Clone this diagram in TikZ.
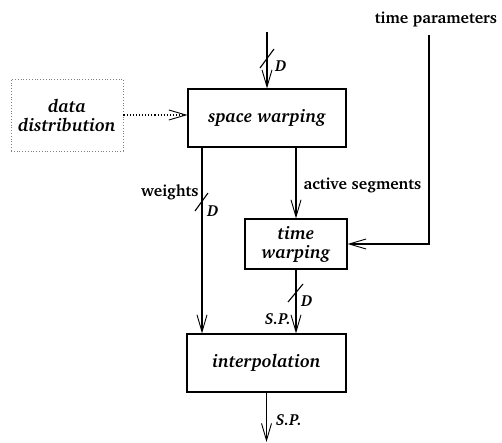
\documentclass[tikz,border=0pt]{standalone}
\usepackage[T1]{fontenc}
\usepackage{charter}
\usetikzlibrary{arrows.meta}

\begin{document}
\begin{tikzpicture}[x=1pt,y=-1pt,line width=1.1pt,>={Straight Barb[length=17pt,width=10pt,line width=0.9pt]},block/.style={draw,font=\fontsize{18}{19}\selectfont\bfseries\itshape,align=center,inner sep=0pt},lbl/.style={font=\fontsize{16}{18}\selectfont\bfseries},bus/.style={font=\fontsize{16}{18}\selectfont\bfseries\itshape,inner sep=0pt}]
\useasboundingbox (0,0) rectangle (502,443);
\node[block,minimum width=158,minimum height=58] (sw) at (267,118) {space warping};
\node[block,minimum width=102,minimum height=50] (tw) at (296,244) {time\\warping};
\node[block,minimum width=159,minimum height=58] (interp) at (266.5,363) {interpolation};
\node[block,draw=gray,line width=0.8pt,dotted,minimum width=112,minimum height=72] (dd) at (67,115) {data\\distribution};
\node[lbl,inner sep=0pt] (tparam) at (436,19) {time parameters};
\coordinate (din) at (267,32);
\coordinate (tp) at (429,35);
\coordinate (out) at (267,442);
\draw[->] (din) -- (sw);
\draw[->,dotted] (dd.east) -- (dd.east -| sw.west);
\draw[->] ([xshift=-65pt]sw.south) -- ([xshift=-65pt]sw.south |- interp.north);
\draw[->] (tw.north |- sw.south) -- (tw);
\draw[->] (tp) |- (tw.east);
\draw[->] (tw) -- (tw |- interp.north);
\draw[->] (interp.south) -- (interp.south |- out);
% bus slashes
\draw (274,49) -- (260,68);
\draw (208,193) -- (195,211);
\draw (303,284) -- (288,302);
\node[bus] (d1) at (281,66) {D};
\node[bus] (d2) at (213,211) {D};
\node[bus] (d3) at (307,301) {D};
\node[lbl,anchor=east,inner sep=0pt] (wlbl) at (199,192) {weights};
\node[lbl,anchor=west,inner sep=0pt] (albl) at (303,185) {active segments};
\node[bus] (sp1) at (278,319) {S.P.};
\node[bus] (sp2) at (289,420) {S.P.};
\end{tikzpicture}
\end{document}
